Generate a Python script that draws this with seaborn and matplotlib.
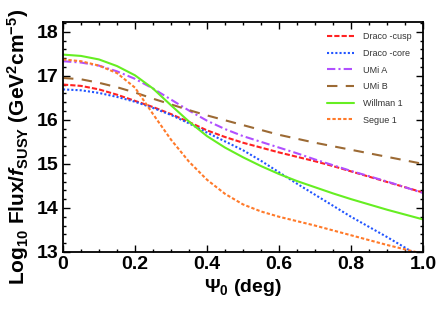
import numpy as np
import pandas as pd
import matplotlib
matplotlib.use("Agg")
import matplotlib.pyplot as plt
from matplotlib.ticker import MultipleLocator
import seaborn as sns

# angle grid (deg)
psi = [0.0, 0.05, 0.1, 0.15, 0.2, 0.25, 0.3, 0.35, 0.4, 0.45, 0.5,
       0.55, 0.6, 0.65, 0.7, 0.75, 0.8, 0.85, 0.9, 0.95, 1.0]

draco_cusp = [16.80, 16.77, 16.69, 16.57, 16.43, 16.29, 16.13, 15.95, 15.76, 15.61, 15.48,
              15.37, 15.26, 15.16, 15.06, 14.95, 14.83, 14.71, 14.59, 14.47, 14.35]
draco_core = [16.69, 16.67, 16.61, 16.52, 16.41, 16.27, 16.11, 15.92, 15.71, 15.51, 15.31,
              15.07, 14.81, 14.55, 14.30, 14.05, 13.80, 13.57, 13.34, 13.10, 12.85]
umi_a = [17.33, 17.30, 17.23, 17.10, 16.93, 16.71, 16.46, 16.21, 15.98, 15.79, 15.63,
         15.50, 15.37, 15.24, 15.10, 14.97, 14.84, 14.72, 14.60, 14.47, 14.34]
umi_b = [16.95, 16.92, 16.84, 16.74, 16.62, 16.48, 16.35, 16.22, 16.10, 15.99, 15.88,
         15.77, 15.66, 15.57, 15.48, 15.40, 15.32, 15.24, 15.16, 15.08, 15.00]
willman_1 = [17.48, 17.45, 17.37, 17.22, 17.01, 16.71, 16.33, 15.96, 15.63, 15.37, 15.15,
             14.95, 14.77, 14.61, 14.47, 14.33, 14.20, 14.08, 13.96, 13.85, 13.74]
segue_1 = [17.37, 17.33, 17.23, 17.06, 16.73, 16.13, 15.55, 15.05, 14.64, 14.32, 14.08,
           13.92, 13.80, 13.70, 13.60, 13.49, 13.38, 13.27, 13.16, 13.06, 12.96]

labels = ["Draco -cusp", "Draco -core", "UMi A", "UMi B", "Willman 1", "Segue 1"]
series = [draco_cusp, draco_core, umi_a, umi_b, willman_1, segue_1]

colors = {"Draco -cusp": "#ff2222", "Draco -core": "#2255ff", "UMi A": "#b050ff",
          "UMi B": "#9c6a34", "Willman 1": "#66ee22", "Segue 1": "#ff7a2a"}
dashes = {"Draco -cusp": (2.5, 1), "Draco -core": (1, 1), "UMi A": (4, 1.5, 1, 1.5),
          "UMi B": (5, 4), "Willman 1": "", "Segue 1": (1.6, 1)}

df = pd.concat([pd.DataFrame({"psi": psi, "flux": s, "halo": lab})
                for lab, s in zip(labels, series)], ignore_index=True)

sns.set_style("ticks")
plt.rcParams["font.family"] = ["Liberation Sans", "DejaVu Sans"]
plt.rcParams["mathtext.fontset"] = "custom"
plt.rcParams["mathtext.rm"] = "Liberation Sans:bold"
plt.rcParams["mathtext.bf"] = "Liberation Sans:bold"
plt.rcParams["mathtext.it"] = "Liberation Sans:italic:bold"
for key in ["text.color", "axes.labelcolor", "xtick.color", "ytick.color", "axes.edgecolor"]:
    plt.rcParams[key] = "black"

fig = plt.figure(figsize=(4.36, 3.10), dpi=100)
ax = fig.add_axes([63 / 436, 58 / 310, 360 / 436, 230 / 310])

sns.lineplot(data=df, x="psi", y="flux", hue="halo", style="halo",
             palette=colors, dashes=dashes, hue_order=labels, style_order=labels,
             linewidth=1.5, ax=ax)

ax.set_xlim(0, 1.0)
ax.set_ylim(13, 18.22)
ax.xaxis.set_minor_locator(MultipleLocator(0.05))
ax.yaxis.set_major_locator(MultipleLocator(1))
ax.yaxis.set_minor_locator(MultipleLocator(0.2))
ax.set_xticks([0, 0.2, 0.4, 0.6, 0.8, 1.0])
ax.set_xticklabels(["0", "0.2", "0.4", "0.6", "0.8", "1.0"])
ax.tick_params(which="both", direction="in", top=True, right=True, width=1.0)
ax.tick_params(which="major", length=5, labelsize=14, pad=3)
ax.tick_params(which="minor", length=2.5)
for lab in ax.get_xticklabels() + ax.get_yticklabels():
    lab.set_fontweight("bold")
for sp in ax.spines.values():
    sp.set_linewidth(1.3)

ax.set_xlabel(r"$\Psi_0$ (deg)", fontsize=14, fontweight="bold", labelpad=3)
ax.set_ylabel(r"Log$_{10}$ Flux/$\mathit{f}_{\mathrm{SUSY}}$ (GeV$^2$cm$^{-5}$)",
              fontsize=15, fontweight="bold")
ax.yaxis.set_label_coords(-0.088, 0.455)

leg = ax.legend(loc="upper left", bbox_to_anchor=(0.72, 0.975), frameon=False,
                fontsize=6.5, handlelength=3.0, labelspacing=0.85, borderpad=0,
                handletextpad=1.0)
for t in leg.get_texts():
    t.set_color("#333333")

fig.savefig("out.png", dpi=100)
